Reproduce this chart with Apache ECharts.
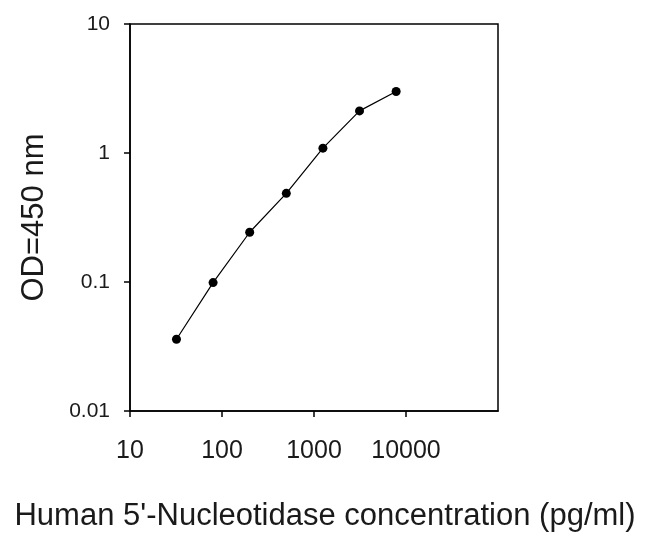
<!DOCTYPE html>
<html><head><meta charset="utf-8">
<script src="https://cdn.jsdelivr.net/npm/echarts@6/dist/echarts.min.js"></script>
<style>html,body{margin:0;padding:0;background:#fff}#c{width:646px;height:538px}</style>
</head><body><div id="c"></div>
<script>
const concentrations = [32, 80, 200, 500, 1250, 3125, 7812.5];
const odValues = [0.036, 0.099, 0.243, 0.487, 1.09, 2.12, 3.0];
const xTitle = "Human 5'-Nucleotidase concentration (pg/ml)";
const yTitle = "OD=450 nm";

const chart = echarts.init(document.getElementById('c'));
const font = 'Liberation Sans, Arial, sans-serif';
chart.setOption({
  animation: false,
  backgroundColor: '#fff',
  grid: {left: 130, right: 148, top: 24, bottom: 127, show: true, borderColor: '#000', borderWidth: 1.5},
  xAxis: {
    type: 'log', logBase: 10, min: 10, max: 100000,
    name: xTitle, nameLocation: 'middle', nameGap: 90,
    nameTextStyle: {fontFamily: font, fontSize: 31, color: '#1a1a1a', padding: [0, 0, 0, 22]},
    axisLine: {lineStyle: {color: '#000', width: 1.5}},
    axisTick: {show: true, inside: false, length: 6, lineStyle: {color: '#000', width: 1.5}},
    axisLabel: {fontFamily: font, fontSize: 25, color: '#1a1a1a', margin: 28, showMaxLabel: false,
      formatter: v => v >= 100000 ? '' : String(v)},
    splitLine: {show: false}, minorTick: {show: false}
  },
  yAxis: {
    type: 'log', logBase: 10, min: 0.01, max: 10,
    name: yTitle, nameLocation: 'middle', nameGap: 80, nameRotate: 90,
    nameTextStyle: {fontFamily: font, fontSize: 31, color: '#1a1a1a'},
    axisLine: {lineStyle: {color: '#000', width: 1.5}},
    axisTick: {show: true, inside: false, length: 6, lineStyle: {color: '#000', width: 1.5}},
    axisLabel: {fontFamily: font, fontSize: 21, color: '#1a1a1a', margin: 20,
      formatter: v => String(+v.toPrecision(3))},
    splitLine: {show: false}
  },
  series: [{
    type: 'line',
    data: concentrations.map((c, i) => [c, odValues[i]]),
    symbol: 'circle', symbolSize: 9,
    itemStyle: {color: '#000'},
    lineStyle: {color: '#000', width: 1.2}
  }]
});
</script></body></html>
